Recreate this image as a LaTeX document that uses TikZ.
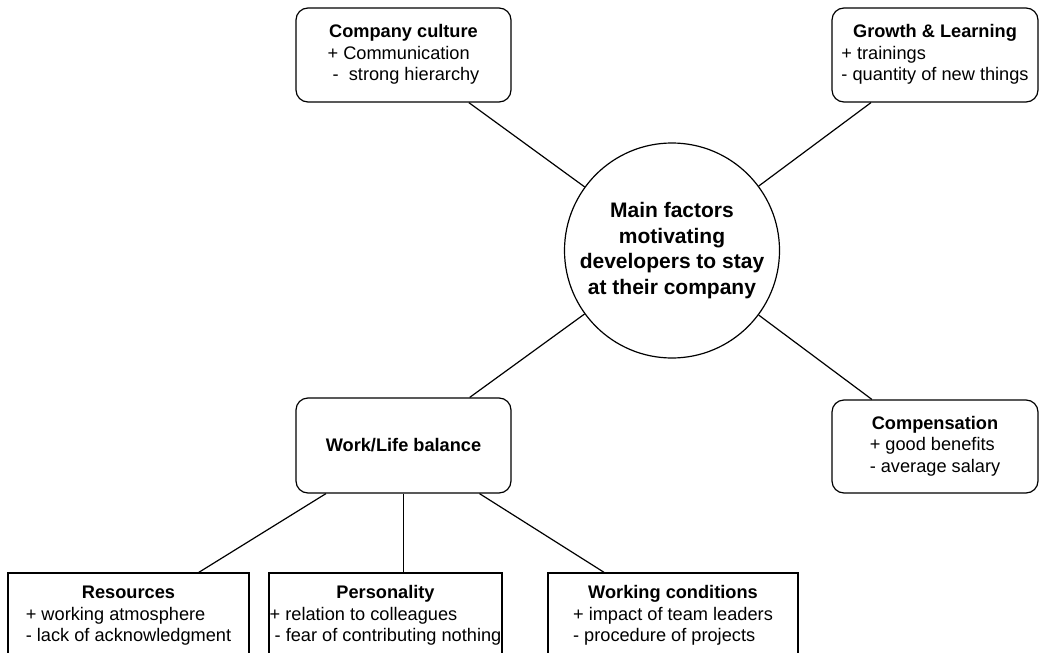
\documentclass[tikz,border=0pt]{standalone}
\usepackage{fontspec}
\setmainfont{Liberation Sans}

% Text sizes for the factor boxes and the central hub
\newcommand\factorfont{\fontsize{18.2}{21.5}\selectfont}
\newcommand\hubtextfont{\fontsize{21}{25.5}\selectfont\bfseries}

% Bold heading centred over a left-aligned pair of lines
\newcommand\factorlist[3]{%
  \begin{tabular}{@{}l@{}}
    \multicolumn{1}{@{}c@{}}{\bfseries #1}\\
    #2\\
    #3
  \end{tabular}}

\begin{document}
\begin{tikzpicture}[
    x=1pt, y=-1pt,
    softbox/.style={draw, rounded corners=12pt, line width=1.2pt,
                    inner sep=0pt, font=\factorfont},
    plainbox/.style={draw, line width=1.2pt, inner sep=0pt, font=\factorfont},
    hub/.style={draw, circle, minimum size=215pt, inner sep=0pt,
                line width=1.2pt, align=center, font=\hubtextfont},
    link/.style={line width=1.2pt}
  ]
  \useasboundingbox (0,0) rectangle (1039,653);

  % central topic
  \node[hub] (hub) at (672,250.5)
    {Main factors\\motivating\\developers to stay\\at their company};

  % first-level factors
  \node[softbox, minimum width=215pt, minimum height=94pt] (culture) at (403.5,55)
    {\factorlist{Company culture}{+ Communication}{\ -\ \ strong hierarchy}};
  \node[softbox, minimum width=206pt, minimum height=94pt] (growth) at (935,55)
    {\factorlist{Growth \& Learning}{+ trainings}{- quantity of new things}};
  \node[softbox, minimum width=215pt, minimum height=95pt] (balance) at (403.5,445.5)
    {\bfseries Work/Life balance};
  \node[softbox, minimum width=206pt, minimum height=93pt] (pay) at (935,446.5)
    {\factorlist{Compensation}{+ good benefits}{- average salary}};

  % aspects of work/life balance
  \node[plainbox, minimum width=241pt, minimum height=86pt] (resources) at (128.5,616)
    {\factorlist{Resources}{+ working atmosphere}{- lack of acknowledgment}};
  \node[plainbox, minimum width=233pt, minimum height=86pt] (personality) at (385.5,616)
    {\factorlist{Personality}{+ relation to colleagues}{\ - fear of contributing nothing}};
  \node[plainbox, minimum width=250pt, minimum height=86pt] (conditions) at (673,616)
    {\factorlist{Working conditions}{+ impact of team leaders}{- procedure of projects}};

  % connectors
  \draw[link] (hub) -- (culture);
  \draw[link] (hub) -- (growth);
  \draw[link] (hub) -- (balance);
  \draw[link] (hub) -- (pay);
  \draw[link] (balance) -- (resources);
  \draw[link] (balance.south) -- (balance.south |- personality.north);
  \draw[link] (balance) -- (conditions);
\end{tikzpicture}
\end{document}
